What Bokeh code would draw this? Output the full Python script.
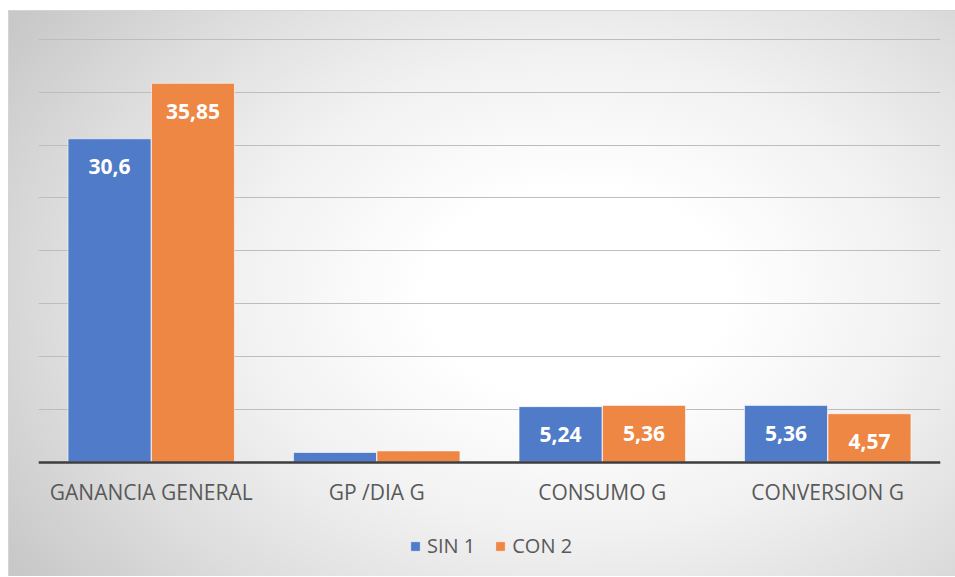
from bokeh.plotting import figure
from bokeh.models import ColumnDataSource, FactorRange, Legend, LegendItem, LabelSet
from bokeh.transform import dodge
from bokeh.embed import file_html
from bokeh.resources import INLINE
from bokeh.core.properties import value

categories = ["GANANCIA GENERAL", "GP /DIA G", "CONSUMO G", "CONVERSION G"]
sin_1 = [30.6, 0.9, 5.24, 5.36]
con_2 = [35.85, 1.05, 5.36, 4.57]
series_names = ["SIN 1", "CON 2"]
y_ticks = [0, 5, 10, 15, 20, 25, 30, 35, 40]

BLUE = "#4F7BC8"
ORANGE = "#EE8644"
FONT = "Open Sans"


def fmt(v):
    return ("%g" % v).replace(".", ",")


src = ColumnDataSource(dict(
    cat=categories, sin=sin_1, con=con_2,
    sin_lab=[fmt(v) if v > 2 else "" for v in sin_1],
    con_lab=[fmt(v) if v > 2 else "" for v in con_2],
))

p = figure(
    x_range=FactorRange(*categories, range_padding=0),
    y_range=(-10.935, 40.095),
    width=947, height=566,
    output_backend="svg", toolbar_location=None,
    min_border_left=29, min_border_right=16, min_border_top=27, min_border_bottom=0,
)
p.styles = {
    "margin-left": "8px", "margin-top": "10px",
    "background": "radial-gradient(ellipse 72% 85% at 60% 50%, #ffffff 0%, #ffffff 22%, #f1f1f1 50%, #dddddd 76%, #c8c8c8 100%)",
    "border-top": "1px solid #d4d4d4", "border-left": "1px solid #d4d4d4",
}
p.background_fill_color = None
p.border_fill_color = None
p.outline_line_color = None

r1 = p.vbar(x=dodge("cat", -0.185, range=p.x_range), top="sin", bottom=0, width=0.368, source=src,
            fill_color=BLUE, line_color="white", line_alpha=0.6, line_width=1)
r2 = p.vbar(x=dodge("cat", 0.185, range=p.x_range), top="con", bottom=0, width=0.368, source=src,
            fill_color=ORANGE, line_color="white", line_alpha=0.6, line_width=1)

for col, off in (("sin", -0.185), ("con", 0.185)):
    labels = LabelSet(x=dodge("cat", off, range=p.x_range), y=col, text=col + "_lab", source=src,
                      y_offset=-28, text_align="center", text_baseline="middle",
                      text_color="white", text_font=value(FONT), text_font_style="bold",
                      text_font_size="21px")
    p.add_layout(labels)

p.yaxis.visible = False
p.ygrid.ticker = y_ticks
p.ygrid.grid_line_color = "#bdbdbd"
p.ygrid.grid_line_width = 1
p.xgrid.grid_line_color = None

ax = p.xaxis[0]
ax.fixed_location = 0
ax.axis_line_color = "#3d3d3d"
ax.axis_line_width = 2.5
ax.major_tick_line_color = None
ax.minor_tick_line_color = None
ax.major_label_text_font = FONT
ax.major_label_text_font_size = "21px"
ax.major_label_text_color = "#595959"
ax.major_label_standoff = 10

legend = Legend(items=[LegendItem(label=series_names[0], renderers=[r1]),
                       LegendItem(label=series_names[1], renderers=[r2])],
                orientation="horizontal", location=(371, 18),
                background_fill_alpha=0, border_line_color=None,
                label_text_font=FONT, label_text_font_size="20px", label_text_color="#595959",
                glyph_width=12, glyph_height=12, label_standoff=6, spacing=19,
                padding=0, margin=0)
p.add_layout(legend, "center")

open("out.html", "w").write(file_html(p, INLINE))
